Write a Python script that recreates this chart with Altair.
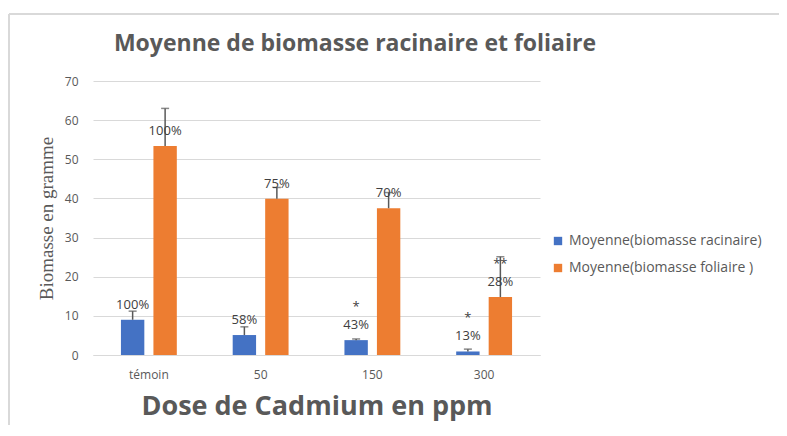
import altair as alt
import pandas as pd

categories = ["témoin", "50", "150", "300"]
series_names = ["Moyenne(biomasse racinaire)", "Moyenne(biomasse foliaire )"]
racinaire = [9.0, 5.1, 3.8, 0.9]
racinaire_err = [11.2, 7.2, 4.1, 1.5]
racinaire_pct = ["100%", "58%", "43%", "13%"]
racinaire_star = ["", "", "*", "*"]
foliaire = [53.4, 39.9, 37.5, 14.8]
foliaire_err = [63.0, 42.8, 41.5, 25.1]
foliaire_pct = ["100%", "75%", "70%", "28%"]
foliaire_star = ["", "", "", "**"]
y_ticks = [0, 10, 20, 30, 40, 50, 60, 70]
chart_title = "Moyenne de biomasse racinaire et foliaire"

rows = []
for i, c in enumerate(categories):
    rows.append(dict(cat=c, serie=series_names[0], v=racinaire[i], err=racinaire_err[i],
                     pct=racinaire_pct[i], star=racinaire_star[i]))
    rows.append(dict(cat=c, serie=series_names[1], v=foliaire[i], err=foliaire_err[i],
                     pct=foliaire_pct[i], star=foliaire_star[i]))
df = pd.DataFrame(rows)

GRAY = "#595959"
FONT = "Open Sans"

x = alt.X("cat:N", sort=categories,
          scale=alt.Scale(paddingInner=0.5, paddingOuter=0.25),
          axis=alt.Axis(title="Dose de Cadmium en ppm", labelAngle=0, ticks=False, domain=True,
                        domainColor="#d9d9d9", labelFont=FONT, labelFontSize=12, labelColor=GRAY,
                        labelPadding=14, titleFont=FONT, titleFontSize=27, titleFontWeight="bold",
                        titleColor=GRAY, titlePadding=13))
xoff = alt.XOffset("serie:N", sort=series_names,
                   scale=alt.Scale(paddingInner=0.28, paddingOuter=0))
yscale = alt.Scale(domain=[0, 70])
yaxis = alt.Axis(values=y_ticks, title="Biomasse en gramme", ticks=False, domain=False,
                 gridColor="#d9d9d9", labelFont=FONT, labelFontSize=12, labelColor=GRAY,
                 labelPadding=15, titleFont="Liberation Serif", titleFontSize=19,
                 titleFontWeight="normal", titleColor=GRAY, titlePadding=8)
y = alt.Y("v:Q", scale=yscale, axis=yaxis)
color = alt.Color("serie:N", sort=series_names,
                  scale=alt.Scale(domain=series_names, range=["#4472C4", "#ED7D31"]),
                  legend=alt.Legend(title=None, orient="none", legendX=458, legendY=153,
                                    symbolType="square", symbolSize=70, labelFont=FONT,
                                    labelFontSize=14, labelColor=GRAY, rowPadding=13,
                                    labelLimit=0, symbolStrokeWidth=0))

base = alt.Chart(df)
bars = base.mark_bar().encode(x=x, xOffset=xoff, y=y, color=color)
err_rule = base.mark_rule(color=GRAY, strokeWidth=1.5).encode(
    x=x, xOffset=xoff, y=y, y2="err:Q")
err_cap = base.mark_tick(color=GRAY, thickness=1.5, size=8, orient="horizontal").encode(
    x=x, xOffset=xoff, y=alt.Y("err:Q", scale=yscale, axis=yaxis))
labels = base.mark_text(dy=-15, font=FONT, fontSize=13, color="#404040").encode(
    x=x, xOffset=xoff, y=y, text="pct:N")
stars = base.mark_text(dy=-33, font=FONT, fontSize=13, color="#404040").encode(
    x=x, xOffset=xoff, y=y, text="star:N")

one = pd.DataFrame({"t": [chart_title]})
frame_left = alt.Chart(one).mark_rule(color="#d9d9d9", strokeWidth=2).encode(
    x=alt.value(-84), y=alt.value(-67), y2=alt.value(360))
frame_top = alt.Chart(one).mark_rule(color="#d9d9d9", strokeWidth=2).encode(
    x=alt.value(-84), x2=alt.value(700), y=alt.value(-67))
title_mark = alt.Chart(one).mark_text(font=FONT, fontSize=23, fontWeight="bold", color=GRAY,
                                      baseline="alphabetic", align="center").encode(
    x=alt.value(262), y=alt.value(-30), text="t:N")

chart = alt.layer(frame_left, frame_top, title_mark, bars, err_rule, err_cap, labels, stars).properties(
    width=447, height=274,
    autosize=alt.AutoSizeParams(type="none"),
    padding={"left": 85, "top": 73, "right": 239, "bottom": 70},
).configure(background="white", view=alt.ViewConfig(strokeWidth=0, stroke="transparent"))

chart.save("out.html", embed_options={"renderer": "svg", "actions": False})
